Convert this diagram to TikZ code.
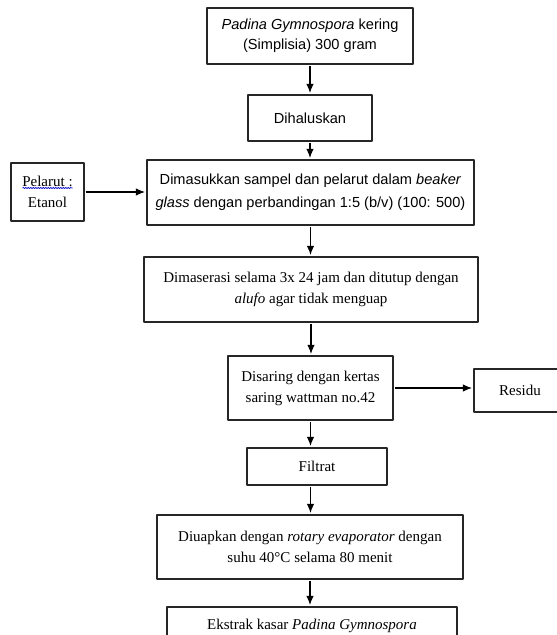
\documentclass[tikz,border=0pt]{standalone}
\usepackage{fontspec}
\setmainfont{Liberation Serif}
\newfontfamily\arialfont{Liberation Sans}
\usetikzlibrary{arrows.meta,decorations.pathmorphing}

\begin{document}
\begin{tikzpicture}[x=1pt,y=-1pt,>={Latex[length=9pt,width=7.5pt]},line join=round,
	serif/.style={font=\fontsize{15}{21}\selectfont},
	sans/.style={font=\arialfont\fontsize{14.6}{20}\selectfont},
	kotak/.style={draw=black!85,line width=1.2pt,align=center,inner sep=0pt},
	panah/.style={->,line width=1.1pt,shorten >=1.5pt,shorten <=1pt}]
	\useasboundingbox (0,0) rectangle (557,635);
	% kolom utama
	\node[kotak,sans,minimum width=206pt,minimum height=56pt] (sim) at (310,36)
		{\textit{Padina Gymnospora} kering\\(Simplisia) 300 gram};
	\node[kotak,sans,minimum width=124pt,minimum height=46pt] (halus) at (310,118) {Dihaluskan};
	\node[kotak,sans,font=\arialfont\fontsize{14.6}{23}\selectfont,minimum width=327pt,minimum height=65pt] (masuk) at (310.5,192.5)
		{Dimasukkan sampel dan pelarut dalam \textit{beaker}\\\textit{glass} dengan perbandingan 1:5 (b/v) (100: 500)};
	\node[kotak,serif,minimum width=334pt,minimum height=65pt] (maserasi) at (311,289.5)
		{Dimaserasi selama 3x 24 jam dan ditutup dengan\\\textit{alufo} agar tidak menguap};
	\node[kotak,serif,minimum width=165pt,minimum height=64pt] (saring) at (310.5,388)
		{Disaring dengan kertas\\saring wattman no.42};
	\node[kotak,serif,minimum width=140pt,minimum height=37pt] (filtrat) at (317,466.5) {Filtrat};
	\node[kotak,serif,minimum width=306pt,minimum height=64pt] (uap) at (310,547)
		{Diuapkan dengan \textit{rotary evaporator} dengan\\suhu 40\textdegree C selama 80 menit};
	\node[kotak,serif,minimum width=290pt,minimum height=38pt] (ekstrak) at (312,626)
		{Ekstrak kasar \textit{Padina Gymnospora}};
	% samping
	\node[kotak,serif,minimum width=73pt,minimum height=58pt] (pelarut) at (47.5,192) {Pelarut :\\Etanol};
	\node[kotak,serif,minimum width=92pt,minimum height=43pt] (residu) at (520,390.5) {Residu};
	\draw[blue!80!black,line width=0.6pt,decorate,decoration={snake,amplitude=0.6pt,segment length=2.5pt}]
		([shift={(-25,-4)}]pelarut.center) -- ([shift={(25,-4)}]pelarut.center);
	% panah
	\draw[panah] (sim.south) -- (sim.south |- halus.north);
	\draw[panah] (halus.south) -- (halus.south |- masuk.north);
	\draw[panah] (masuk.south) -- (masuk.south |- maserasi.north);
	\draw[panah] (maserasi.south) -- (maserasi.south |- saring.north);
	\draw[panah] (saring.south) -- (saring.south |- filtrat.north);
	\draw[panah] (saring.south |- filtrat.south) -- (saring.south |- uap.north);
	\draw[panah] (uap.south) -- (uap.south |- ekstrak.north);
	\draw[panah] (pelarut.east) -- (pelarut.east -| masuk.west);
	\draw[panah] (saring.east) -- (saring.east -| residu.west);
\end{tikzpicture}
\end{document}
